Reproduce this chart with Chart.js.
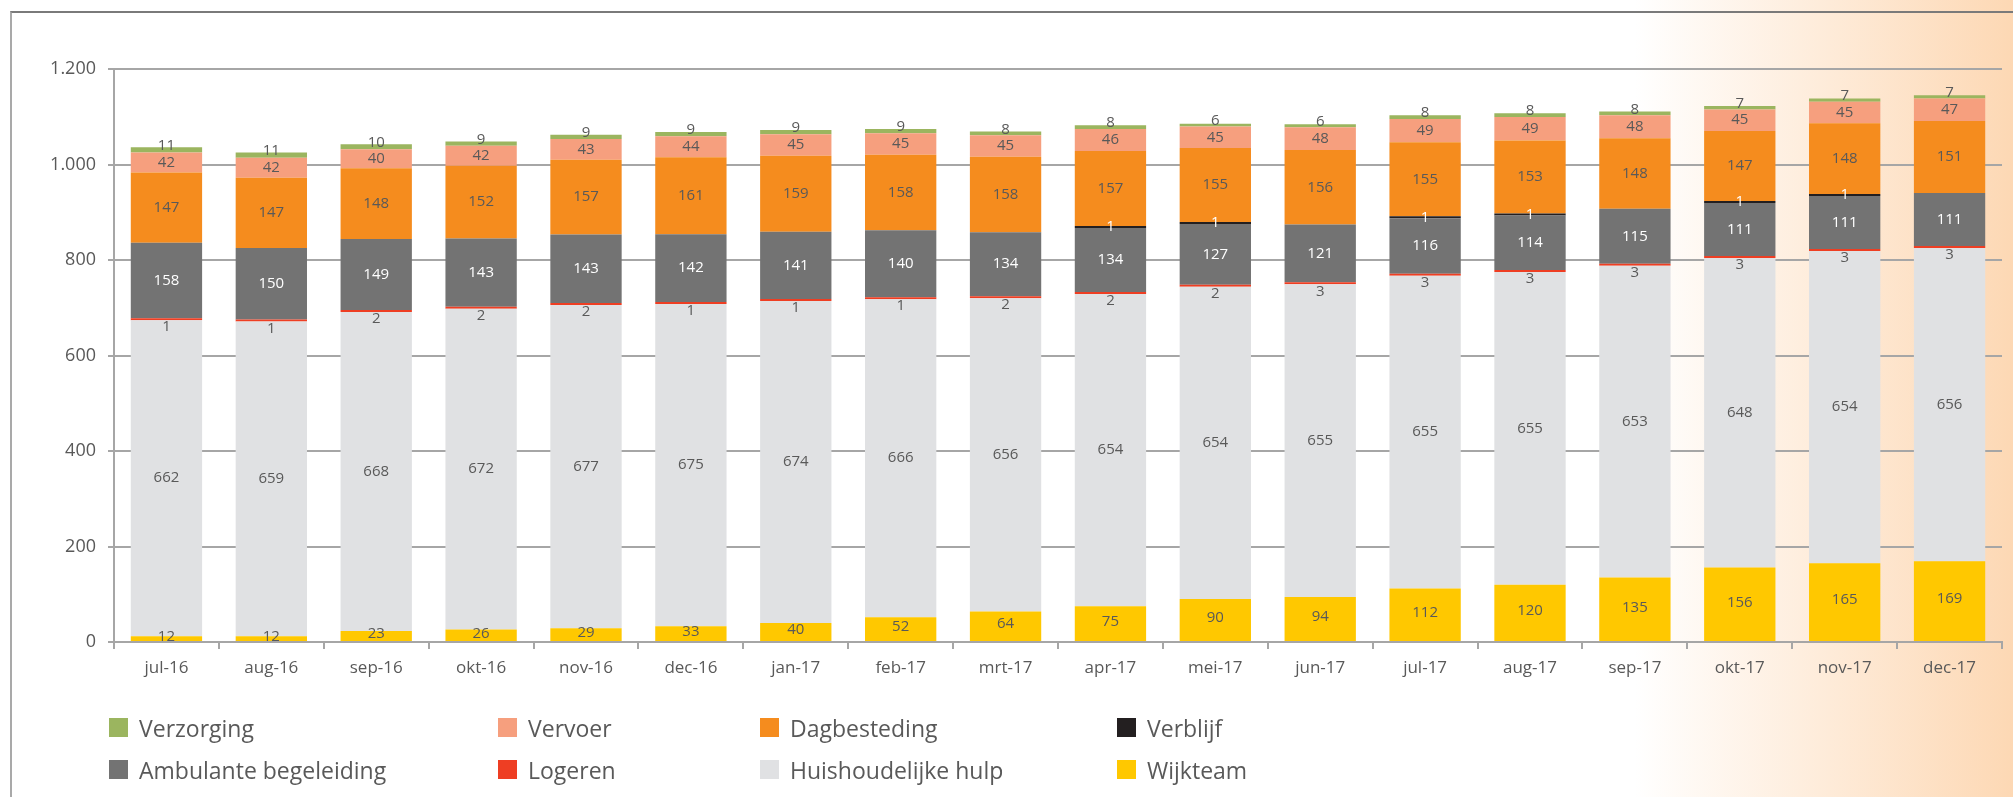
<!DOCTYPE html>
<html>
<head>
<meta charset="utf-8">
<script src="https://cdn.jsdelivr.net/npm/chart.js@4"></script>
<style>
    html, body { margin: 0; padding: 0; }
    body {
        width: 2013px; height: 797px; overflow: hidden; position: relative;
        background: linear-gradient(to right, #ffffff 0px, #ffffff 1635px, #fdd8b4 2013px);
        font-family: 'Open Sans', sans-serif;
    }
    .frame { position: absolute; left: 10px; top: 11px; right: 0; bottom: 0; border-top: 2px solid #7a7a7a; border-left: 2px solid #a9a9a9; }
    #chart-wrap { position: absolute; left: 0; top: 0; width: 2013px; height: 797px; }
    .legend { position: absolute; left: 109px; top: 718px; display: grid; grid-template-columns: 389px 262px 357px 300px; row-gap: 23px; }
    .legend-item { display: flex; align-items: center; height: 19px; font-size: 23px; color: #595959; white-space: nowrap; }
    .legend-item i { display: inline-block; width: 19px; height: 19px; margin-right: 11px; }
</style>
</head>
<body>
<div class="frame"></div>
<div id="chart-wrap"><canvas id="chart"></canvas></div>
<div class="legend" id="legend"></div>

<script>
// ── Data ──────────────────────────────
const months = ['jul-16', 'aug-16', 'sep-16', 'okt-16', 'nov-16', 'dec-16', 'jan-17', 'feb-17', 'mrt-17',
    'apr-17', 'mei-17', 'jun-17', 'jul-17', 'aug-17', 'sep-17', 'okt-17', 'nov-17', 'dec-17'];

const wijkteam    = [12, 12, 23, 26, 29, 33, 40, 52, 64, 75, 90, 94, 112, 120, 135, 156, 165, 169];
const huishoudelijk = [662, 659, 668, 672, 677, 675, 674, 666, 656, 654, 654, 655, 655, 655, 653, 648, 654, 656];
const logeren     = [1, 1, 2, 2, 2, 1, 1, 1, 2, 2, 2, 3, 3, 3, 3, 3, 3, 3];
const ambulant    = [158, 150, 149, 143, 143, 142, 141, 140, 134, 134, 127, 121, 116, 114, 115, 111, 111, 111];
const verblijf    = [null, null, null, null, null, null, null, null, null, 1, 1, null, 1, 1, null, 1, 1, null];
const dagbesteding = [147, 147, 148, 152, 157, 161, 159, 158, 158, 157, 155, 156, 155, 153, 148, 147, 148, 151];
const vervoer     = [42, 42, 40, 42, 43, 44, 45, 45, 45, 46, 45, 48, 49, 49, 48, 45, 45, 47];
const verzorging  = [11, 11, 10, 9, 9, 9, 9, 9, 8, 8, 6, 6, 8, 8, 8, 7, 7, 7];

const yTicks = [0, 200, 400, 600, 800, 1000, 1200];

// stacked bottom → top
const series = [
    { label: 'Wijkteam', data: wijkteam, color: '#ffc800', text: '#595959', dy: -2 },
    { label: 'Huishoudelijke hulp', data: huishoudelijk, color: '#e0e1e3', text: '#595959', dy: 0 },
    { label: 'Logeren', data: logeren, color: '#ee3e23', text: '#595959', dy: 8, min: 2 },
    { label: 'Ambulante begeleiding', data: ambulant, color: '#737373', text: '#ffffff', dy: 0 },
    { label: 'Verblijf', data: verblijf, color: '#231f20', text: '#ffffff', dy: 0, min: 2 },
    { label: 'Dagbesteding', data: dagbesteding, color: '#f58c1e', text: '#595959', dy: 0 },
    { label: 'Vervoer', data: vervoer, color: '#f69f7e', text: '#595959', dy: 0 },
    { label: 'Verzorging', data: verzorging, color: '#9bb55f', text: '#595959', dy: -4 }
];

const GRID = '#a6a6a6';
const FONT = "'Open Sans', sans-serif";

function fmt(v) {
    return String(v).replace(/\B(?=(\d{3})+(?!\d))/g, '.');
}

// ── Labels on the segments ────────────
const segLabels = {
    id: 'segLabels',
    afterDatasetsDraw(chart) {
        const ctx = chart.ctx;
        ctx.save();
        ctx.font = '15px ' + FONT;
        ctx.textAlign = 'center';
        ctx.textBaseline = 'middle';
        chart.data.datasets.forEach((ds, i) => {
            const meta = chart.getDatasetMeta(i);
            const s = series[i];
            meta.data.forEach((bar, j) => {
                const v = ds.data[j];
                if (v === null || v === undefined) return;
                const p = bar.getProps(['x', 'y', 'base'], true);
                ctx.fillStyle = s.text;
                ctx.fillText(String(v), p.x, (p.y + p.base) / 2 + s.dy);
            });
        });
        ctx.restore();
    }
};

new Chart(document.getElementById('chart'), {
    type: 'bar',
    data: {
        labels: months,
        datasets: series.map(s => ({
            label: s.label,
            data: s.data,
            backgroundColor: s.color,
            borderWidth: 0,
            minBarLength: s.min || 0,
            categoryPercentage: 1,
            barPercentage: 0.68
        }))
    },
    options: {
        responsive: true,
        maintainAspectRatio: false,
        animation: false,
        layout: { padding: { top: 69, right: 11, left: 0, bottom: 0 } },
        plugins: { legend: { display: false }, tooltip: { enabled: false } },
        scales: {
            x: {
                stacked: true,
                afterFit: s => { s.height = 155; },
                grid: { drawOnChartArea: false, drawTicks: true, tickLength: 7, color: GRID, lineWidth: 2 },
                border: { color: GRID, width: 2 },
                ticks: { color: '#595959', font: { family: FONT, size: 17 }, padding: 9, maxRotation: 0 }
            },
            y: {
                stacked: true,
                min: 0, max: 1200,
                afterFit: s => { s.width = 114; },
                afterBuildTicks: s => { s.ticks = yTicks.map(v => ({ value: v })); },
                grid: { color: GRID, lineWidth: 2, tickLength: 6 },
                border: { color: GRID, width: 2 },
                ticks: { color: '#595959', font: { family: FONT, size: 18 }, padding: 12, callback: v => fmt(v) }
            }
        }
    },
    plugins: [segLabels]
});

// ── Legend ────────────────────────────
document.getElementById('legend').innerHTML = series.slice().reverse().map(s =>
    `<div class="legend-item"><i style="background:${s.color}"></i>${s.label}</div>`
).join('');
</script>
</body>
</html>
